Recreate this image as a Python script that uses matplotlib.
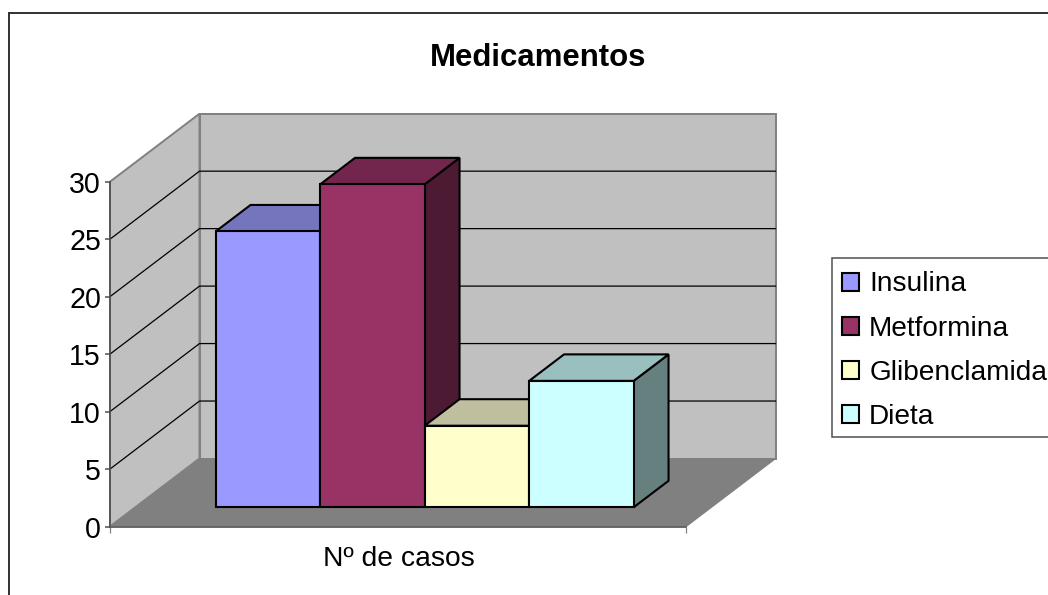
import matplotlib
matplotlib.use("Agg")
import matplotlib.pyplot as plt
from matplotlib.patches import Rectangle

plt.rcParams['font.family'] = ['Liberation Sans', 'DejaVu Sans']

# data
title = 'Medicamentos'
category = 'Nº de casos'
series = ['Insulina', 'Metformina', 'Glibenclamida', 'Dieta']
values = [24, 28.1, 7.1, 11]
colors = ['#9999FF', '#993366', '#FFFFCC', '#CCFFFF']
top_colors = ['#7575BD', '#73264D', '#BFBFA0', '#99BFBF']
side_colors = ['#4D4D80', '#4D1A33', '#808066', '#668080']
yticks = [0, 5, 10, 15, 20, 25, 30]

W, H = 1048, 595
fig = plt.figure(figsize=(W / 100, H / 100), dpi=100)
fig.patch.set_facecolor('white')
# chart frame runs off the right and bottom of the picture
fig.add_artist(Rectangle((8.5 / W, 1 - 620 / H), 1100 / W, 607 / H, transform=fig.transFigure,
                         fc='none', ec='#303030', lw=1.4))

x0, x1, y_bot, y_top = 110, 686, 526.5, 181.7
ax = fig.add_axes([x0 / W, 1 - y_bot / H, (x1 - x0) / W, (y_bot - y_top) / H])
ax.set_xlim(0, 1)
ax.set_ylim(0, 30)
ax.patch.set_visible(False)

# depth of the box, in axis units
dx = 89.5 / (x1 - x0)
dy = 68 / ((y_bot - y_top) / 30)

# floor and walls
ax.fill([0, 1, 1 + dx, dx], [0, 0, dy, dy], fc='#808080', ec='#808080', lw=1, zorder=1, clip_on=False)
ax.fill([0, dx, dx, 0], [0, dy, 30 + dy, 30], fc='#C0C0C0', ec='#808080', lw=1.4, zorder=1, clip_on=False)
ax.fill([dx, 1 + dx, 1 + dx, dx], [dy, dy, 30 + dy, 30 + dy], fc='#C0C0C0', ec='#808080', lw=1.4, zorder=1,
        clip_on=False)
ax.plot([0, 1], [0, 0], color='#606060', lw=1.3, zorder=1.5, clip_on=False)

for t in yticks[1:-1]:
    ax.plot([0, dx, 1 + dx], [t, t + dy, t + dy], color='black', lw=0.9, zorder=2, clip_on=False)

# bars
gap = 0.282
bar_w = 104.5 / (x1 - x0)
bar_dx = 0.39 * dx
bar_dy = 0.39 * dy
base = gap * dy
start = gap * dx + (215.6 - 25.2 - x0) / (x1 - x0)
handles = []
for i, v in enumerate(values):
    left = start + i * bar_w
    right = left + bar_w
    top = base + v
    z = 3 + i
    ax.fill([right, right + bar_dx, right + bar_dx, right],
            [base, base + bar_dy, top + bar_dy, top],
            fc=side_colors[i], ec='black', lw=1.5, joinstyle='miter', zorder=z, clip_on=False)
    ax.fill([left, left + bar_dx, right + bar_dx, right],
            [top, top + bar_dy, top + bar_dy, top],
            fc=top_colors[i], ec='black', lw=1.5, joinstyle='miter', zorder=z, clip_on=False)
    b = ax.bar(left, v, bar_w, bottom=base, align='edge', color=colors[i], edgecolor='black', lw=1.5,
               zorder=z + 0.5, label=series[i])
    handles.append(b[0])

# axes
for s in ['top', 'right', 'bottom']:
    ax.spines[s].set_visible(False)
ax.spines['left'].set_color('#505050')
ax.spines['left'].set_linewidth(1.2)
ax.set_yticks(yticks)
ax.tick_params(axis='y', labelsize=20.6, length=3.5, width=1.1, color='#505050', pad=3)
ax.set_xticks([0, 1])
ax.set_xticklabels([])
ax.tick_params(axis='x', length=4.5, width=0.9, color='#808080')
ax.text(0.5015, -0.058, category, transform=ax.transAxes, ha='center', va='top', fontsize=20.3)

fig.text(538.5 / W, 1 - 58 / H, title, ha='center', va='center', fontsize=22.4, fontweight='bold')

# legend box also runs off the right edge, so it is drawn apart from the entries
fig.add_artist(Rectangle((832 / W, 1 - 437 / H), 300 / W, 179 / H, transform=fig.transFigure,
                         fc='white', ec='#505050', lw=1.1))
leg = fig.legend(handles=handles, labels=series, loc='upper left', bbox_to_anchor=(842 / W, 1 - 271.5 / H),
                 fontsize=20.2, frameon=False, borderaxespad=0, borderpad=0,
                 handlelength=0.6, handleheight=0.6, handletextpad=0.37, labelspacing=0.65)

fig.savefig('out.png', dpi=100)
